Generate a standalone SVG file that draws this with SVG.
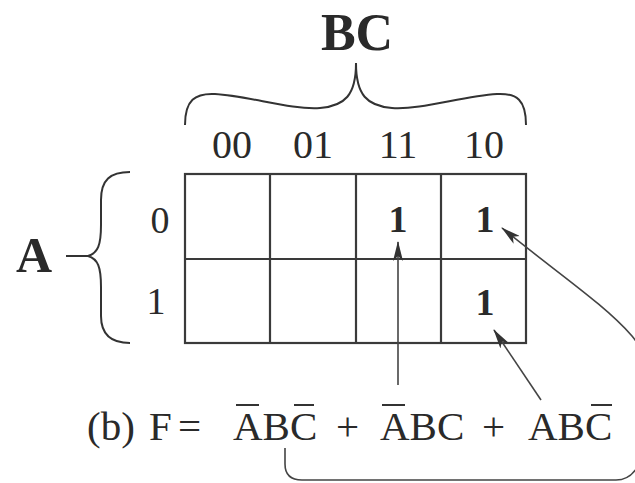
<svg xmlns="http://www.w3.org/2000/svg" width="635" height="483" viewBox="0 0 635 483">
<style>
.t{font-family:"Liberation Serif","Times New Roman",serif;fill:#2a2a2a}
.b{font-weight:bold}
.ln{fill:none;stroke:#333;stroke-width:2}
.g{fill:none;stroke:#3a3a3a;stroke-width:2.2}
.ar{fill:none;stroke:#444;stroke-width:1.6}
.ov{stroke:#333;stroke-width:2}
</style>
<defs>
<marker id="ah" viewBox="0 0 20 10" refX="19" refY="5" markerWidth="20" markerHeight="10" markerUnits="userSpaceOnUse" orient="auto">
<path d="M0,0 L20,5 L0,10 L5,5 z" fill="#333"/>
</marker>
</defs>
<rect width="635" height="483" fill="#fff"/>

<g id="bc-label">
<text class="t b" x="357" y="50" font-size="52" text-anchor="middle">BC</text>
<path class="ln" d="M185,125 C185,100 195,93 215,94 C250,96 290,110 320,108 C345,106 356,95 356,63 M356,63 C356,95 367,106 392,108 C422,110 462,96 497,94 C517,93 526,100 526,125"/>
</g>

<g id="col-labels">
<text class="t" x="232" y="158" font-size="40" text-anchor="middle">00</text>
<text class="t" x="313" y="158" font-size="40" text-anchor="middle">01</text>
<text class="t" x="398" y="158" font-size="40" text-anchor="middle">11</text>
<text class="t" x="484" y="158" font-size="40" text-anchor="middle">10</text>
</g>

<g id="a-label">
<text class="t b" x="34" y="272" font-size="50" text-anchor="middle">A</text>
<path class="ln" d="M66,256 L88,256"/>
<path class="ln" d="M130,172 C110,172 101,180 101,200 L101,225 C101,245 98,253 88,256 C98,259 101,267 101,287 L101,316 C101,334 110,343 130,343"/>
</g>

<g id="row-labels">
<text class="t" x="160" y="233" font-size="38" text-anchor="middle">0</text>
<text class="t" x="156" y="314" font-size="38" text-anchor="middle">1</text>
</g>

<g id="kmap">
<rect class="g" x="185" y="174" width="341" height="169"/>
<path class="g" d="M270,174 V343 M356,174 V343 M441,174 V343 M185,259 H526"/>
<text class="t b" x="398" y="232" font-size="38" text-anchor="middle">1</text>
<text class="t b" x="485" y="232" font-size="38" text-anchor="middle">1</text>
<text class="t b" x="485" y="315" font-size="38" text-anchor="middle">1</text>
</g>

<g id="expression">
<text class="t" font-size="41" y="440"><tspan x="87">(b)</tspan><tspan x="149">F</tspan><tspan x="178">=</tspan><tspan x="233">ABC</tspan><tspan x="336">+</tspan><tspan x="380">ABC</tspan><tspan x="482">+</tspan><tspan x="528">ABC</tspan></text>
<path class="ov" d="M236,405 H259 M294,405 H314 M382,405 H405 M591,405 H612"/>
</g>

<g id="connectors">
<path class="ar" d="M398,385 L398,242" marker-end="url(#ah)"/>
<path class="ar" d="M541,400 L494,330" marker-end="url(#ah)"/>
<path class="ar" d="M285,448 L285,464 Q285,480 302,480 L616,480 Q632,480 640,462 L650,400 Q652,360 632,336 C605,305 560,275 502,228" marker-end="url(#ah)"/>
</g>
</svg>
